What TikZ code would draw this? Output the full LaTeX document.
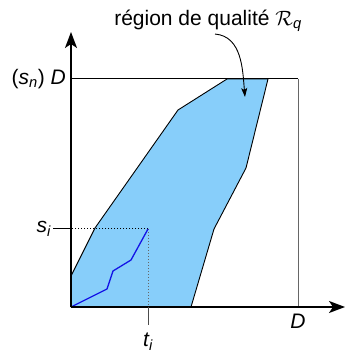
\documentclass[tikz,border=0pt]{standalone}
\usepackage{fontspec}
\setmainfont{Liberation Sans}
\usetikzlibrary{arrows.meta}
\definecolor{regionblue}{RGB}{135,206,250}
\definecolor{pathblue}{RGB}{20,20,230}
\tikzset{
  axisarr/.style={-{Stealth[length=16pt,width=12pt,inset=4pt]}, line width=1.6pt},
  boxline/.style={line width=1pt},
  regionfill/.style={fill=regionblue, draw=black, line width=0.9pt, line join=round},
  guide/.style={dotted, line width=1pt},
  tickline/.style={line width=1pt, black!70},
  lbl/.style={font=\fontsize{21}{25}\selectfont, inner sep=2pt},
  callout/.style={-{Stealth[length=9pt,width=6pt,inset=2pt]}, line width=0.9pt},
}
\newcommand{\mvar}[1]{\textit{#1}}

\begin{document}
\begin{tikzpicture}[x=1pt, y=1pt]
  \useasboundingbox (-71,-46) rectangle (279,307);
  % corners of the square
  \coordinate (O)  at (0,0);
  \coordinate (TL) at (0,228);
  \coordinate (TR) at (227,228);
  \coordinate (BR) at (227,0);
  % quality region
  \fill[regionfill] (O) -- (0,31) -- (24,79) -- (107,197) -- (156,228)
    -- (197,228) -- (175,139) -- (143,78) -- (120,0) -- cycle;
  % square
  \draw[boxline] (TL) -- (TR);
  \draw[boxline, black!60] (TR) -- (BR);
  % current point and guides
  \coordinate (P) at (77,78);
  \coordinate (Ps) at (0,78);
  \coordinate (Pt) at (77,0);
  \draw[guide] (P) -- (Ps);
  \draw[guide, black!60] (P) -- (Pt);
  % path
  \draw[pathblue, line width=1.3pt, line join=round]
    (O) -- (36,18) -- (42,36) -- (60,47) -- (P);
  % axes
  \coordinate (Xtip) at (274,0);
  \coordinate (Ytip) at (0,275);
  \draw[axisarr] (O) -- (Xtip);
  \draw[axisarr] (O) -- (Ytip);
  % ticks and labels
  \coordinate (Stick) at (-18,78);
  \coordinate (Ttick) at (77,-18);
  \draw[tickline, black] (Stick) -- (Ps);
  \draw[tickline] (Pt) -- (Ttick);
  \node[lbl, anchor=east] (si) at (Stick) {\mvar{s\textsubscript{i}}};
  \node[lbl, anchor=north] (ti) at (77,-24) {\mvar{t\textsubscript{i}}};
  \node[lbl, anchor=north] (Dx) at (227,-5) {\mvar{D}};
  \node[lbl, anchor=east] (Dy) at (-3,228) {(\mvar{s\textsubscript{n}})\ \mvar{D}};
  % callout
  \node[lbl] (title) at (137,286) {région de qualité $\mathcal{R}$\textsubscript{\mvar{q}}};
  \coordinate (Rq) at (174,210);
  \draw[callout] ([xshift=7pt]title.south) to[out=-5, in=95] (Rq);
\end{tikzpicture}
\end{document}
